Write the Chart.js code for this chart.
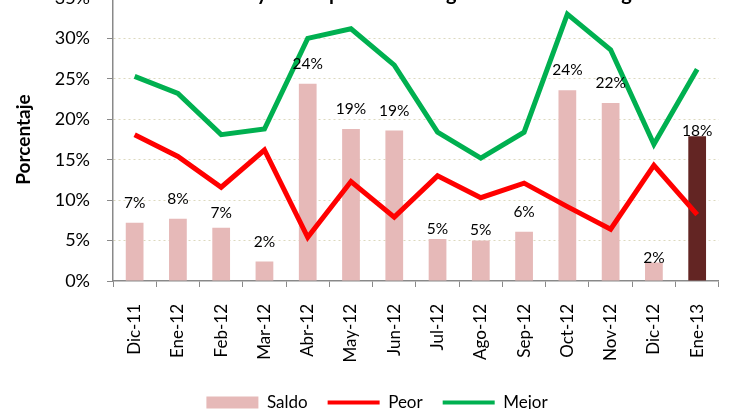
<!DOCTYPE html>
<html>
<head>
<meta charset="utf-8">
<script src="https://cdn.jsdelivr.net/npm/chart.js@4.4.1/dist/chart.umd.min.js"></script>
<style>
html,body{margin:0;padding:0;width:735px;height:409px;overflow:hidden;background:#fff;}
#wrap{position:absolute;left:0;top:-40px;width:735px;height:462px;}
</style>
</head>
<body>
<div id="wrap"><canvas id="c"></canvas></div>
<script>
// ---- data ----
const categories = ['Dic-11','Ene-12','Feb-12','Mar-12','Abr-12','May-12','Jun-12','Jul-12','Ago-12','Sep-12','Oct-12','Nov-12','Dic-12','Ene-13'];
const saldo = [7.2, 7.7, 6.6, 2.4, 24.4, 18.8, 18.6, 5.2, 5.0, 6.1, 23.6, 22.0, 2.3, 17.9];
const peor  = [18.1, 15.4, 11.6, 16.2, 5.4, 12.3, 7.9, 13.0, 10.3, 12.1, 9.2, 6.4, 14.3, 8.2];
const mejor = [25.3, 23.2, 18.1, 18.8, 30.0, 31.2, 26.7, 18.4, 15.2, 18.4, 33.0, 28.6, 16.9, 26.2];
const yTickValues = [0, 5, 10, 15, 20, 25, 30, 35];
const seriesNames = ['Saldo', 'Peor', 'Mejor'];
const yTitle = 'Porcentaje';
const chartTitlePrefix = 'Evolución del Saldo ';
const chartTitle = 'Evolución del Saldo y las Empresas de Riego en los Cultivos Agrícolas';

// ---- styles ----
const PINK = '#E6B9B8', DARK = '#632523', RED = '#FF0000', GREEN = '#00B050';
const AXIS = '#898989', GRID = '#DCD9BE';
const labelGap = 15;
const labelGapOverrides = {2: 10, 7: 5, 8: 6, 12: -1, 13: 0};

Chart.defaults.font.family = 'Lato';
Chart.defaults.color = '#000';

const barLabels = {
  id: 'barLabels',
  afterDatasetsDraw(chart) {
    const ctx = chart.ctx;
    const meta = chart.getDatasetMeta(0);
    ctx.save();
    ctx.font = '15.5px Lato';
    ctx.fillStyle = '#000';
    ctx.textAlign = 'center';
    ctx.textBaseline = 'alphabetic';
    meta.data.forEach((bar, i) => {
      const gap = (i in labelGapOverrides) ? labelGapOverrides[i] : labelGap;
      ctx.fillText(Math.round(saldo[i]) + '%', bar.x, bar.y - gap);
    });
    ctx.restore();
  }
};

const topTitle = {
  id: 'topTitle',
  beforeDatasetsDraw(chart) {
    const ctx = chart.ctx;
    ctx.save();
    ctx.font = 'bold 20px Lato';
    ctx.fillStyle = '#000';
    ctx.textAlign = 'left';
    ctx.textBaseline = 'alphabetic';
    const x0 = 262 - ctx.measureText(chartTitlePrefix).width - ctx.measureText('y').width / 2;
    ctx.fillText(chartTitle, x0, 39.5);
    ctx.restore();
  }
};

new Chart(document.getElementById('c'), {
  type: 'bar',
  data: {
    labels: categories,
    datasets: [
      {
        type: 'bar', label: seriesNames[0], data: saldo, order: 2,
        backgroundColor: (c) => c.dataIndex === categories.length - 1 ? DARK : PINK,
        borderWidth: 0, barPercentage: 0.41, categoryPercentage: 1
      },
      {
        type: 'line', label: seriesNames[1], data: peor, order: 1,
        borderColor: RED, backgroundColor: RED, borderWidth: 5, pointRadius: 0,
        tension: 0, borderJoinStyle: 'miter', fill: false
      },
      {
        type: 'line', label: seriesNames[2], data: mejor, order: 1,
        borderColor: GREEN, backgroundColor: GREEN, borderWidth: 5, pointRadius: 0,
        tension: 0, borderJoinStyle: 'miter', fill: false
      }
    ]
  },
  options: {
    responsive: true,
    maintainAspectRatio: false,
    animation: false,
    layout: { padding: { left: 31, right: 12, top: 38, bottom: 1 } },
    plugins: {
      title: { display: false },
      tooltip: { enabled: false },
      legend: {
        position: 'bottom',
        labels: {
          usePointStyle: true,
          pointStyleWidth: 52,
          boxHeight: 12,
          padding: 20,
          font: { size: 17 },
          color: '#000',
          sort: (a, b) => a.datasetIndex - b.datasetIndex,
          generateLabels(chart) {
            const items = Chart.defaults.plugins.legend.labels.generateLabels(chart);
            items.forEach(it => {
              const ds = chart.data.datasets[it.datasetIndex];
              if (ds.type === 'line') {
                it.pointStyle = 'line';
                it.lineWidth = 4;
                it.strokeStyle = ds.borderColor;
              } else {
                it.pointStyle = 'rect';
                it.fillStyle = PINK;
                it.strokeStyle = PINK;
                it.lineWidth = 0;
              }
            });
            return items;
          }
        }
      }
    },
    scales: {
      x: {
        offset: true,
        afterFit(scale) { scale.height = 93; },
        grid: { display: true, drawOnChartArea: false, drawTicks: true, tickLength: 6, tickColor: AXIS, tickWidth: 1, offset: true },
        border: { display: true, color: AXIS, width: 1.5 },
        ticks: { autoSkip: false, minRotation: 90, maxRotation: 90, padding: 17, font: { size: 17 }, color: '#000' }
      },
      y: {
        min: 0, max: 35,
        afterFit(scale) { scale.width = 82; },
        afterBuildTicks(scale) { scale.ticks = yTickValues.map(v => ({ value: v })); },
        grid: { color: (c) => c.tick && c.tick.value === 0 ? 'rgba(0,0,0,0)' : GRID, lineWidth: 1, drawTicks: true, tickLength: 6, tickColor: AXIS, tickWidth: 1, tickBorderDash: [] },
        border: { display: true, color: AXIS, width: 1.5, dash: [2, 3] },
        ticks: { padding: 17, font: { size: 18 }, color: '#000', callback: (v) => v + '%' },
        title: { display: true, text: yTitle, font: { size: 19, weight: 'bold' }, color: '#000', padding: { top: -19, bottom: 0 } }
      }
    }
  },
  plugins: [barLabels, topTitle]
});
</script>
</body>
</html>
